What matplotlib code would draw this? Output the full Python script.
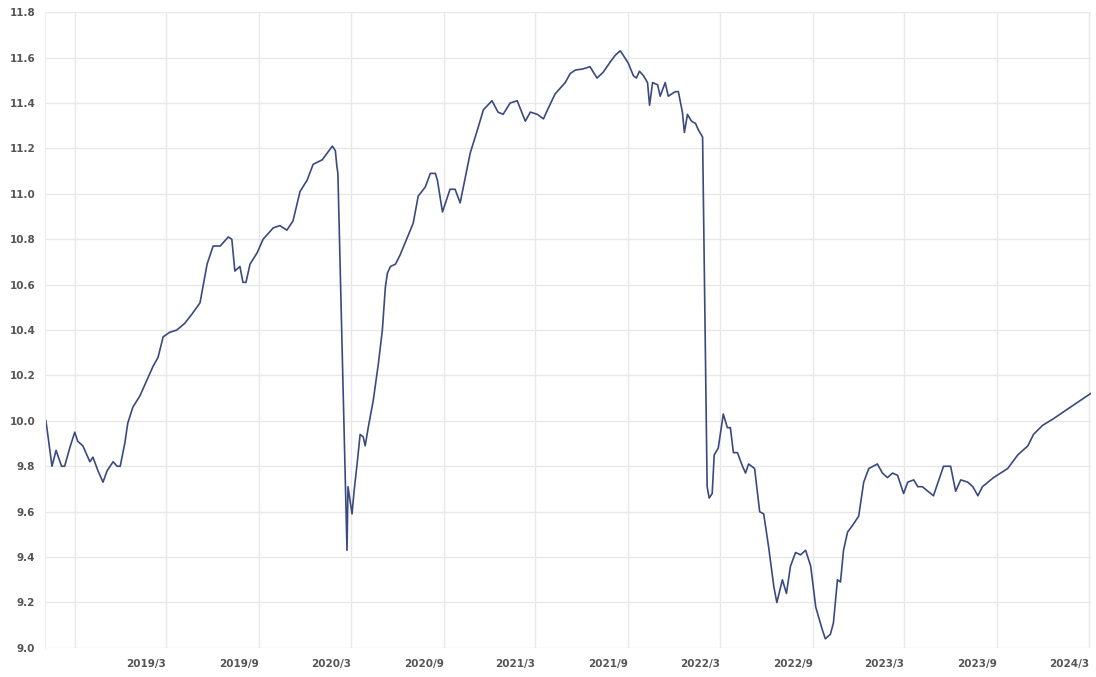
import matplotlib
matplotlib.use("Agg")
import matplotlib.pyplot as plt
import matplotlib.dates as mdates
import pandas as pd

# Kursdata (datum, värde)
dates = [
    "2018-07-06", "2018-07-18", "2018-07-26", "2018-08-06", "2018-08-12", "2018-08-22",
    "2018-09-01", "2018-09-07", "2018-09-17", "2018-10-01", "2018-10-07", "2018-10-17",
    "2018-10-27", "2018-11-04", "2018-11-16", "2018-11-24", "2018-11-30", "2018-12-09",
    "2018-12-15", "2018-12-25", "2019-01-08", "2019-01-22", "2019-02-03", "2019-02-13",
    "2019-02-23", "2019-03-08", "2019-03-22", "2019-04-07", "2019-04-21", "2019-05-07",
    "2019-05-21", "2019-06-02", "2019-06-16", "2019-07-02", "2019-07-09", "2019-07-15",
    "2019-07-25", "2019-07-31", "2019-08-06", "2019-08-14", "2019-08-28", "2019-09-09",
    "2019-09-29", "2019-10-12", "2019-10-26", "2019-11-07", "2019-11-21", "2019-12-05",
    "2019-12-17", "2020-01-04", "2020-01-24", "2020-01-30", "2020-02-02", "2020-02-04",
    "2020-02-22", "2020-02-24", "2020-02-28", "2020-03-03", "2020-03-07", "2020-03-13",
    "2020-03-19", "2020-03-25", "2020-03-29", "2020-04-04", "2020-04-14", "2020-04-24",
    "2020-05-02", "2020-05-08", "2020-05-12", "2020-05-18", "2020-05-28", "2020-06-06",
    "2020-07-02", "2020-07-12", "2020-07-26", "2020-08-05", "2020-08-15", "2020-08-19",
    "2020-08-29", "2020-09-13", "2020-09-23", "2020-10-03", "2020-10-13", "2020-10-23",
    "2020-11-06", "2020-11-18", "2020-12-05", "2020-12-17", "2020-12-27", "2021-01-10",
    "2021-01-24", "2021-02-09", "2021-02-19", "2021-03-05", "2021-03-17", "2021-03-25",
    "2021-04-09", "2021-04-29", "2021-05-09", "2021-05-19", "2021-06-03", "2021-06-17",
    "2021-07-01", "2021-07-13", "2021-07-27", "2021-08-06", "2021-08-16", "2021-08-22",
    "2021-09-01", "2021-09-11", "2021-09-17", "2021-09-23", "2021-10-01", "2021-10-09",
    "2021-10-13", "2021-10-19", "2021-10-29", "2021-11-03", "2021-11-13", "2021-11-19",
    "2021-12-03", "2021-12-09", "2021-12-17", "2021-12-21", "2021-12-27", "2022-01-04",
    "2022-01-12", "2022-01-18", "2022-01-26", "2022-02-04", "2022-02-08", "2022-02-14",
    "2022-02-18", "2022-02-26", "2022-03-08", "2022-03-16", "2022-03-22", "2022-03-28",
    "2022-04-05", "2022-04-15", "2022-04-21", "2022-04-27", "2022-05-09", "2022-05-19",
    "2022-05-27", "2022-06-06", "2022-06-16", "2022-06-22", "2022-07-03", "2022-07-11",
    "2022-07-19", "2022-07-29", "2022-08-08", "2022-08-18", "2022-08-28", "2022-09-07",
    "2022-09-20", "2022-09-26", "2022-10-06", "2022-10-12", "2022-10-20", "2022-10-26",
    "2022-11-01", "2022-11-09", "2022-11-19", "2022-12-01", "2022-12-11", "2022-12-21",
    "2023-01-07", "2023-01-17", "2023-01-27", "2023-02-06", "2023-02-16", "2023-02-28",
    "2023-03-08", "2023-03-20", "2023-03-28", "2023-04-06", "2023-04-28", "2023-05-12",
    "2023-05-18", "2023-06-01", "2023-06-11", "2023-06-21", "2023-07-05", "2023-07-15",
    "2023-07-25", "2023-08-03", "2023-08-25", "2023-09-22", "2023-10-12", "2023-11-01",
    "2023-11-12", "2023-11-30", "2023-12-22", "2024-01-24", "2024-03-04",
]
values = [
    10.00, 9.80, 9.87, 9.80, 9.80, 9.88,
    9.95, 9.91, 9.89, 9.82, 9.84, 9.78,
    9.73, 9.78, 9.82, 9.80, 9.80, 9.90,
    9.99, 10.06, 10.11, 10.18, 10.24, 10.28,
    10.37, 10.39, 10.40, 10.43, 10.47, 10.52,
    10.69, 10.77, 10.77, 10.81, 10.80, 10.66,
    10.68, 10.61, 10.61, 10.69, 10.74, 10.80,
    10.85, 10.86, 10.84, 10.88, 11.01, 11.06,
    11.13, 11.15, 11.21, 11.19, 11.12, 11.09,
    9.43, 9.71, 9.65, 9.59, 9.69, 9.81,
    9.94, 9.93, 9.89, 9.97, 10.09, 10.25,
    10.40, 10.59, 10.65, 10.68, 10.69, 10.73,
    10.87, 10.99, 11.03, 11.09, 11.09, 11.06,
    10.92, 11.02, 11.02, 10.96, 11.07, 11.18,
    11.28, 11.37, 11.41, 11.36, 11.35, 11.40,
    11.41, 11.32, 11.36, 11.35, 11.33, 11.37,
    11.44, 11.49, 11.53, 11.545, 11.55, 11.56,
    11.51, 11.535, 11.58, 11.61, 11.63, 11.61,
    11.575, 11.52, 11.51, 11.54, 11.52, 11.49,
    11.39, 11.49, 11.48, 11.43, 11.49, 11.43,
    11.45, 11.45, 11.36, 11.27, 11.35, 11.32,
    11.31, 11.28, 11.25, 9.71, 9.66, 9.68,
    9.85, 9.88, 10.03, 9.97, 9.97, 9.86,
    9.86, 9.80, 9.77, 9.81, 9.79, 9.60,
    9.59, 9.44, 9.27, 9.20, 9.30, 9.24,
    9.36, 9.42, 9.41, 9.43, 9.36, 9.18,
    9.08, 9.04, 9.06, 9.11, 9.30, 9.29,
    9.43, 9.51, 9.54, 9.58, 9.73, 9.79,
    9.81, 9.77, 9.75, 9.77, 9.76, 9.68,
    9.73, 9.74, 9.71, 9.71, 9.67, 9.76,
    9.80, 9.80, 9.69, 9.74, 9.73, 9.71,
    9.67, 9.71, 9.75, 9.79, 9.85, 9.89,
    9.94, 9.98, 10.01, 10.06, 10.12,
]

tick_dates = ["2018-09-01", "2019-03-01", "2019-09-01", "2020-03-01", "2020-09-01",
              "2021-03-01", "2021-09-01", "2022-03-01", "2022-09-01", "2023-03-01",
              "2023-09-01", "2024-03-01"]
tick_labels = ["", "2019/3", "2019/9", "2020/3", "2020/9", "2021/3", "2021/9",
               "2022/3", "2022/9", "2023/3", "2023/9", "2024/3"]
y_ticks = [9.0, 9.2, 9.4, 9.6, 9.8, 10.0, 10.2, 10.4, 10.6, 10.8, 11.0, 11.2, 11.4, 11.6, 11.8]

x = pd.to_datetime(dates)

fig = plt.figure(figsize=(10.96, 6.77), dpi=100)
ax = fig.add_axes([0.041, 0.043, 0.954, 0.939])

ax.plot(x, values, color="#3b4a7e", linewidth=1.2)

ax.set_xlim(pd.Timestamp("2018-07-04"), pd.Timestamp("2024-03-04"))
ax.set_ylim(9.0, 11.8)
ax.set_yticks(y_ticks)
ax.set_yticklabels([f"{v:.1f}" for v in y_ticks])
ax.set_xticks(pd.to_datetime(tick_dates))
ax.set_xticklabels(tick_labels, ha="right")

ax.grid(True, color="#e8e8e8", linewidth=1.0)
ax.set_axisbelow(True)
for side in ["top", "right", "bottom"]:
    ax.spines[side].set_visible(False)
ax.spines["left"].set_color("#eeeeee")
ax.tick_params(length=0, labelsize=7.5, labelcolor="#555555")
ax.tick_params(axis="x", pad=8)
ax.tick_params(axis="y", pad=7)
for lbl in ax.get_xticklabels() + ax.get_yticklabels():
    lbl.set_fontweight("bold")

fig.savefig("out.png", dpi=100)
